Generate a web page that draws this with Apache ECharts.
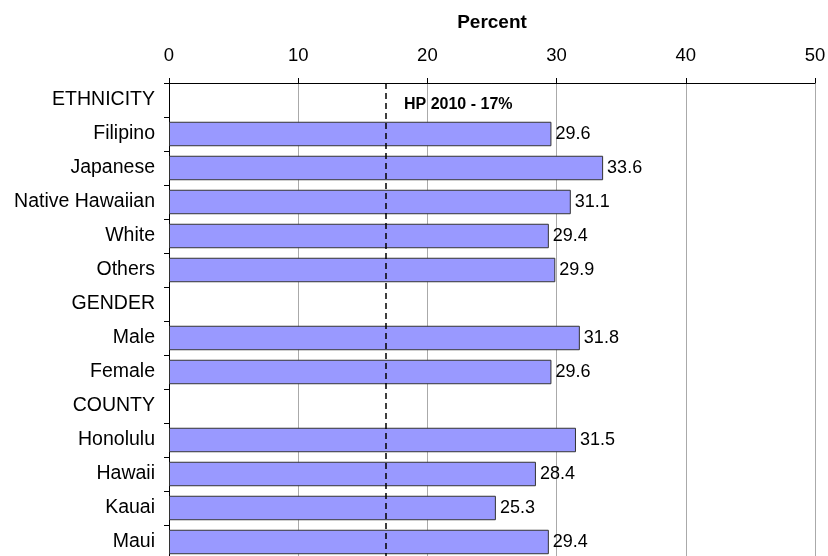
<!DOCTYPE html>
<html>
<head>
<meta charset="utf-8">
<script src="https://cdn.jsdelivr.net/npm/echarts@6/dist/echarts.min.js"></script>
<style>
  html, body { margin: 0; padding: 0; background: #fff; }
  #chart { width: 828px; height: 556px; }
</style>
</head>
<body>
<div id="chart"></div>
<script>
var chart = echarts.init(document.getElementById('chart'));

// rows top to bottom; group headings have no value
var categories = ['ETHNICITY', 'Filipino', 'Japanese', 'Native Hawaiian', 'White', 'Others',
  'GENDER', 'Male', 'Female', 'COUNTY', 'Honolulu', 'Hawaii', 'Kauai', 'Maui'];
var percents = [null, 29.6, 33.6, 31.1, 29.4, 29.9, null, 31.8, 29.6, null, 31.5, 28.4, 25.3, 29.4];
var xTicks = [0, 10, 20, 30, 40, 50];
var hpTarget = 16.75; // drawn slightly left of 17 in the original
var hpLabel = 'HP 2010 - 17%';

var font = 'Liberation Sans, Arial, sans-serif';

option = {
  animation: false,
  grid: {
    left: 169,
    right: 13,
    top: 83,
    height: 476,
    containLabel: false,
    outerBoundsMode: 'none'
  },
  graphic: [{
    type: 'text',
    left: 404,
    top: 97,
    style: {
      text: hpLabel,
      font: 'bold 16px ' + font,
      fill: '#000'
    }
  }],
  xAxis: {
    type: 'value',
    position: 'top',
    min: xTicks[0],
    max: xTicks[xTicks.length - 1],
    interval: 10,
    name: 'Percent',
    nameLocation: 'middle',
    nameGap: 51,
    nameTextStyle: { fontFamily: font, fontSize: 19, fontWeight: 'bold', color: '#000' },
    axisLine: { show: true, lineStyle: { color: '#000', width: 1 } },
    axisTick: { show: true, length: 5, lineStyle: { color: '#000' } },
    axisLabel: { fontFamily: font, fontSize: 18.5, color: '#000', margin: 18 },
    splitLine: { show: true, lineStyle: { color: '#aaa', width: 1 } }
  },
  yAxis: {
    type: 'category',
    inverse: true,
    data: categories,
    axisLine: { show: true, lineStyle: { color: '#000', width: 1 } },
    axisTick: { show: true, length: 5, lineStyle: { color: '#000' } },
    axisLabel: { fontFamily: font, fontSize: 19.5, color: '#000', margin: 14 },
    splitLine: { show: false }
  },
  series: [{
    type: 'bar',
    data: percents,
    barCategoryGap: '28%',
    itemStyle: { color: '#9999ff', borderColor: '#333', borderWidth: 1 },
    label: {
      show: true,
      position: 'right',
      distance: 4,
      fontFamily: font,
      fontSize: 18,
      color: '#000'
    },
    markLine: {
      silent: true,
      symbol: 'none',
      label: { show: false },
      lineStyle: { color: '#000', width: 1.5, type: [6, 4] },
      data: [{ xAxis: hpTarget }]
    }
  }]
};

chart.setOption(option);
</script>
</body>
</html>
